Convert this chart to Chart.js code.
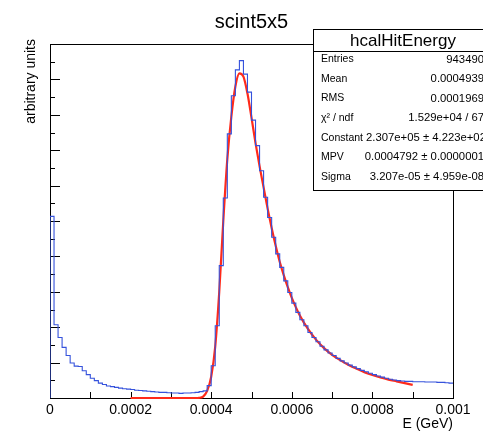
<!DOCTYPE html>
<html>
<head>
<meta charset="utf-8">
<script src="https://cdn.jsdelivr.net/npm/chart.js@4.4.1/dist/chart.umd.min.js"></script>
<style>
  html, body { margin: 0; padding: 0; background: #fff; }
  canvas { display: block; }
</style>
</head>
<body>
<canvas id="c" width="483" height="431"></canvas>
<script>
// histogram: 100 bins of 1e-5 GeV from 0 to 0.001 (arbitrary units)
const binStart = 0;
const binWidth = 0.00001;
const binValues = [
    5.13, 2.07, 1.71, 1.43, 1.20, 0.99, 0.90, 0.89, 0.77, 0.66,
    0.56, 0.49, 0.42, 0.38, 0.34, 0.32, 0.30, 0.28, 0.26, 0.25,
    0.24, 0.22, 0.21, 0.20, 0.19, 0.18, 0.17, 0.16, 0.16, 0.15,
    0.14, 0.14, 0.13, 0.14, 0.14, 0.15, 0.16, 0.18, 0.20, 0.35,
    0.91, 2.04, 3.74, 5.65, 7.46, 8.54, 9.27, 9.53, 9.15, 8.64,
    7.85, 7.13, 6.42, 5.67, 5.10, 4.54, 4.07, 3.69, 3.31, 2.98,
    2.68, 2.42, 2.21, 2.04, 1.85, 1.71, 1.59, 1.46, 1.36, 1.27,
    1.20, 1.12, 1.05, 0.99, 0.93, 0.88, 0.83, 0.78, 0.74, 0.70,
    0.66, 0.62, 0.59, 0.56, 0.53, 0.51, 0.49, 0.48, 0.47, 0.47,
    0.46, 0.46, 0.46, 0.45, 0.45, 0.45, 0.44, 0.44, 0.43, 0.42
];

// landau fit curve
const fitX = [
    0.0002, 0.0003, 0.00036, 0.00037, 0.00038, 0.00039, 0.0004, 0.00041, 0.00042, 0.00043,
    0.00044, 0.00045, 0.00046, 0.00047, 0.00048, 0.00049, 0.0005, 0.00051, 0.00052, 0.00053,
    0.00054, 0.00055, 0.00056, 0.00057, 0.00058, 0.00059, 0.0006, 0.00062, 0.00064, 0.00066,
    0.00068, 0.0007, 0.00072, 0.00074, 0.00076, 0.00078, 0.0008, 0.00082, 0.00084, 0.00086,
    0.00088, 0.0009
];
const fitY = [
    0, 0, 0, 0.005, 0.04, 0.2, 0.6, 1.45, 3.0, 5.0,
    6.75, 7.95, 8.8, 9.17, 9.08, 8.6, 7.92, 7.2, 6.55, 5.95,
    5.35, 4.8, 4.3, 3.85, 3.47, 3.13, 2.83, 2.33, 1.95, 1.65,
    1.41, 1.22, 1.07, 0.94, 0.83, 0.73, 0.65, 0.58, 0.52, 0.47,
    0.42, 0.37
];

const xTickValues = [0, 0.0002, 0.0004, 0.0006, 0.0008, 0.001];
const xTickLabels = ['0', '0.0002', '0.0004', '0.0006', '0.0008', '0.001'];

const statsTitle = 'hcalHitEnergy';
const statNames = ['Entries', 'Mean', 'RMS', 'χ² / ndf', 'Constant', 'MPV', 'Sigma'];
const statValues = [
    '943490', '0.0004939', '0.0001969', '1.529e+04 / 67',
    '2.307e+05 ± 4.223e+02', '0.0004792 ± 0.0000001', '3.207e-05 ± 4.959e-08'
];

const FONT = '"Liberation Sans", Arial, Helvetica, sans-serif';

var histPoints = [{ x: binStart, y: 0 }];
for (var i = 0; i < binValues.length; i++) {
    histPoints.push({ x: binStart + i * binWidth, y: binValues[i] });
}
histPoints.push({ x: binStart + binValues.length * binWidth, y: binValues[binValues.length - 1] });

var fitPoints = fitX.map(function(x, i) { return { x: x, y: fitY[i] }; });

// ROOT style frame, inward ticks, titles and the stats box
const rootDecor = {
    id: 'rootDecor',
    beforeDatasetsDraw: function(chart) {
        var ctx = chart.ctx;
        var a = chart.chartArea;
        var xs = chart.scales.x, ys = chart.scales.y;
        ctx.save();

        // frame
        ctx.strokeStyle = '#000';
        ctx.lineWidth = 1;
        ctx.strokeRect(Math.round(a.left) + 0.5, Math.round(a.top) + 0.5,
            Math.round(a.right - a.left), Math.round(a.bottom - a.top));

        // x ticks every 1e-4, inward
        ctx.beginPath();
        for (var k = 1; k < 10; k++) {
            var px = Math.round(xs.getPixelForValue(k * 0.0001)) + 0.5;
            ctx.moveTo(px, a.bottom);
            ctx.lineTo(px, a.bottom - 6);
        }
        // y ticks, major at integers, minor at halves
        for (var m = 1; m < 20; m++) {
            var py = Math.round(ys.getPixelForValue(m * 0.5)) + 0.5;
            ctx.moveTo(a.left, py);
            ctx.lineTo(a.left + (m % 2 === 0 ? 10 : 5), py);
        }
        ctx.stroke();
        ctx.restore();
    },
    afterDraw: function(chart) {
        var ctx = chart.ctx;
        var a = chart.chartArea;
        ctx.save();

        // title
        ctx.fillStyle = '#000';
        ctx.strokeStyle = '#000';
        ctx.lineWidth = 1;
        ctx.font = '20px ' + FONT;
        ctx.textAlign = 'center';
        ctx.textBaseline = 'middle';
        ctx.fillText('scint5x5', (a.left + a.right) / 2, 22);

        // axis titles
        ctx.font = '14px ' + FONT;
        ctx.textAlign = 'right';
        ctx.fillText('E (GeV)', a.right, 424);
        ctx.save();
        ctx.translate(31, 39);
        ctx.rotate(-Math.PI / 2);
        ctx.textAlign = 'right';
        ctx.fillText('arbitrary units', 0, 0);
        ctx.restore();

        // stats box
        var bx = 313.5, by = 29.5, bw = 185, bh = 161;
        ctx.fillStyle = '#fff';
        ctx.fillRect(bx, by, bw, bh);
        ctx.strokeRect(bx, by, bw, bh);
        ctx.beginPath();
        ctx.moveTo(bx, 51.5);
        ctx.lineTo(bx + bw, 51.5);
        ctx.stroke();

        ctx.fillStyle = '#000';
        ctx.font = '17px ' + FONT;
        ctx.textAlign = 'center';
        ctx.fillText(statsTitle, 403, 41);

        for (var r = 0; r < statNames.length; r++) {
            var ry = 59.5 + r * 19.55;
            ctx.font = '10.5px ' + FONT;
            ctx.textAlign = 'left';
            ctx.fillText(statNames[r], 321, ry);
            var labelEnd = 321 + ctx.measureText(statNames[r]).width;
            ctx.font = '11.3px ' + FONT;
            var vw = ctx.measureText(statValues[r]).width;
            // right aligned at the box edge unless it would run into the label
            var vx = Math.max(484 - vw, labelEnd + 3);
            ctx.fillText(statValues[r], vx, ry);
        }
        ctx.restore();
    }
};

new Chart(document.getElementById('c').getContext('2d'), {
    type: 'line',
    data: {
        datasets: [{
            label: 'hcalHitEnergy',
            data: histPoints,
            stepped: 'before',
            borderColor: '#3552dc',
            borderWidth: 1.1,
            pointRadius: 0,
            fill: false
        }, {
            label: 'landau',
            data: fitPoints,
            borderColor: '#ff2a1a',
            borderWidth: 2.2,
            pointRadius: 0,
            cubicInterpolationMode: 'monotone',
            fill: false,
            clip: 2
        }]
    },
    options: {
        responsive: false,
        animation: false,
        devicePixelRatio: 1,
        layout: { padding: { left: 50, right: 30, top: 44, bottom: 0 } },
        plugins: {
            legend: { display: false },
            tooltip: { enabled: false }
        },
        scales: {
            x: {
                type: 'linear',
                min: 0,
                max: 0.001,
                grid: { display: false, drawTicks: false, tickLength: 0 },
                border: { display: false },
                afterBuildTicks: function(scale) {
                    scale.ticks = xTickValues.map(function(v) { return { value: v }; });
                },
                afterFit: function(scale) { scale.height = 33; },
                ticks: {
                    autoSkip: false,
                    maxRotation: 0,
                    padding: 4,
                    color: '#000',
                    font: { family: FONT, size: 14 },
                    callback: function(value, index) { return xTickLabels[index]; }
                }
            },
            y: {
                display: false,
                min: 0,
                max: 10
            }
        }
    },
    plugins: [rootDecor]
});
</script>
</body>
</html>
